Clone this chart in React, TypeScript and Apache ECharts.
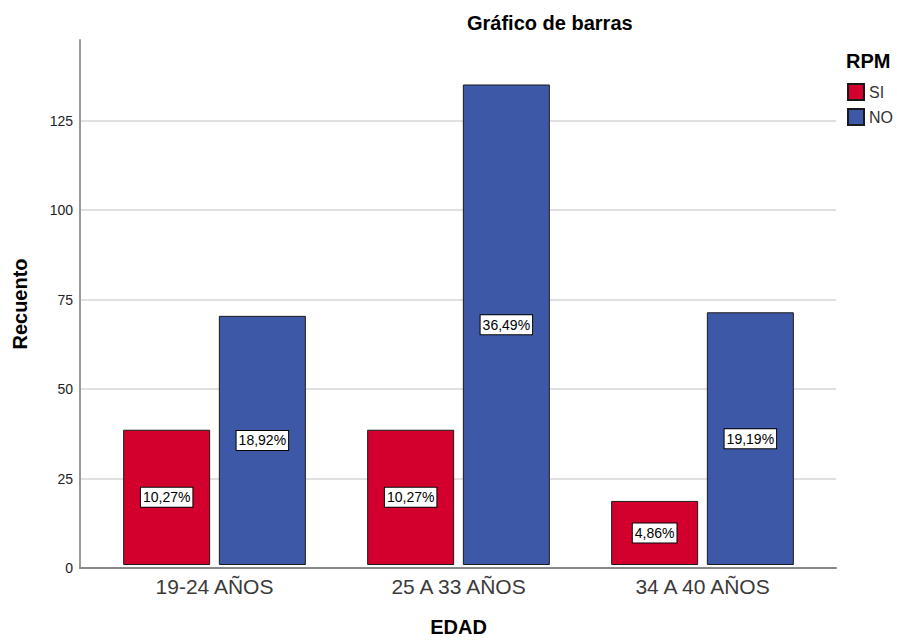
import React, { useEffect, useRef } from "react";
import * as echarts from "echarts";

const categories = ["19-24 AÑOS", "25 A 33 AÑOS", "34 A 40 AÑOS"];
const legendNames = ["SI", "NO"];
const siCounts = [38, 38, 18];
const noCounts = [70, 135, 71];
const siPercent = ["10,27%", "10,27%", "4,86%"];
const noPercent = ["18,92%", "36,49%", "19,19%"];
const yMin = 0;
const yMax = 147.5;
const yInterval = 25;

const FONT = "'Liberation Sans', Arial, sans-serif";

export default function App() {
  const ref = useRef<HTMLDivElement>(null);

  useEffect(() => {
    if (!ref.current) return;
    const chart = echarts.init(ref.current, undefined, { renderer: "svg" });

    const labelStyle = (texts: string[]) => ({
      show: true,
      position: "inside",
      formatter: (p: any) => texts[p.dataIndex],
      color: "#000",
      fontFamily: FONT,
      fontSize: 14,
      backgroundColor: "#fff",
      borderColor: "#000",
      borderWidth: 1,
      padding: [3, 2, 2, 2],
    });

    const gridColors = ["#d6d6d6", "#d6d6d6", "#d6d6d6", "#d6d6d6", "#d6d6d6", "#d6d6d6", "rgba(0,0,0,0)"];

    chart.setOption({
      animation: false,
      backgroundColor: "#fff",
      textStyle: { fontFamily: FONT },
      title: {
        text: "Gráfico de barras",
        left: 467,
        top: 13,
        padding: 0,
        textStyle: { fontFamily: FONT, fontSize: 20, fontWeight: "bold", color: "#000" },
      },
      graphic: [
        {
          type: "text",
          left: 846,
          top: 51,
          style: { text: "RPM", fontFamily: FONT, fontSize: 20, fontWeight: "bold", fill: "#000" },
        },
      ],
      legend: {
        orient: "vertical",
        left: 847,
        top: 83,
        padding: 0,
        itemWidth: 16,
        itemHeight: 16,
        itemGap: 7,
        icon: "rect",
        data: legendNames,
        textStyle: { fontFamily: FONT, fontSize: 16, color: "#333", lineHeight: 16 },
      },
      grid: [
        { left: 80, right: 61, top: 40, bottom: 74 },
        { left: 92.5, right: 72.5, top: 40, bottom: 74 },
      ],
      xAxis: [
        {
          gridIndex: 0,
          type: "value",
          min: 0,
          max: 1,
          axisLine: { show: true, lineStyle: { color: "#8a8a8a", width: 2 } },
          axisTick: { show: false },
          axisLabel: { show: false },
          splitLine: { show: false },
        },
        {
          gridIndex: 1,
          type: "category",
          data: categories,
          axisLine: { show: false },
          axisTick: { show: false },
          axisLabel: { fontFamily: FONT, fontSize: 21, color: "#3a3a3a", margin: 11 },
          name: "EDAD",
          nameLocation: "middle",
          nameGap: 52,
          nameTextStyle: { fontFamily: FONT, fontSize: 20, fontWeight: "bold", color: "#000" },
        },
      ],
      yAxis: [
        {
          gridIndex: 0,
          type: "value",
          min: yMin,
          max: yMax,
          interval: yInterval,
          axisLine: { show: true, lineStyle: { color: "#9a9a9a", width: 2 } },
          axisTick: { show: false },
          axisLabel: { fontFamily: FONT, fontSize: 14, color: "#222", margin: 7, showMaxLabel: false },
          splitLine: { show: true, lineStyle: { color: gridColors, width: 1.5 } },
          name: "Recuento",
          nameLocation: "middle",
          nameGap: 50,
          nameTextStyle: { fontFamily: FONT, fontSize: 20, fontWeight: "bold", color: "#000" },
        },
        {
          gridIndex: 1,
          type: "value",
          min: yMin,
          max: yMax,
          interval: yInterval,
          show: false,
          splitLine: { show: false },
        },
      ],
      series: [
        {
          name: legendNames[0],
          type: "bar",
          xAxisIndex: 1,
          yAxisIndex: 1,
          data: siCounts,
          barWidth: 87,
          barGap: "10%",
          itemStyle: { color: "#d3002e", borderColor: "#1a1a1a", borderWidth: 1 },
          label: labelStyle(siPercent),
        },
        {
          name: legendNames[1],
          type: "bar",
          xAxisIndex: 1,
          yAxisIndex: 1,
          data: noCounts,
          barWidth: 87,
          barGap: "10%",
          itemStyle: { color: "#3d58a7", borderColor: "#1a1a1a", borderWidth: 1 },
          label: labelStyle(noPercent),
        },
      ],
    });

    return () => chart.dispose();
  }, []);

  return (
    <div
      ref={ref}
      style={{ position: "fixed", left: 0, top: 0, width: 897, height: 642, background: "#fff" }}
    />
  );
}
